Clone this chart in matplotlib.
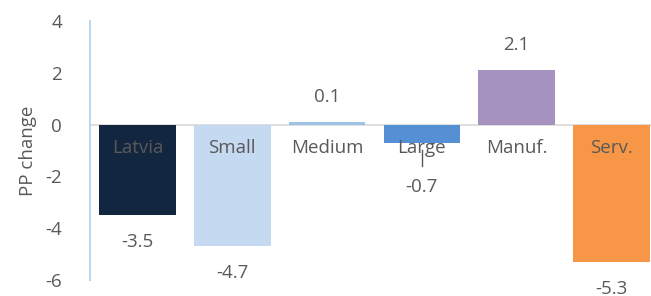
import matplotlib.pyplot as plt

categories = ["Latvia", "Small", "Medium", "Large", "Manuf.", "Serv."]
values = [-3.5, -4.7, 0.1, -0.7, 2.1, -5.3]
colors = ["#12263f", "#c5d9f1", "#9dc3e6", "#5590d5", "#a692be", "#f79646"]
yticks = [-6, -4, -2, 0, 2, 4]

plt.rcParams['font.family'] = ['Open Sans', 'DejaVu Sans']
grey = "#595959"
fs = 13.5

fig = plt.figure(figsize=(6.51, 2.96), dpi=100)
ax = fig.add_axes([90 / 651, 16 / 296, 569 / 651, 259 / 296])

x = range(len(categories))
ax.bar(x, values, width=0.81, color=colors, zorder=2)
ax.axhline(0, color="#d9d9d9", lw=1.2, zorder=1)

# category names sit just under the zero line
for i, name in enumerate(categories):
    ax.annotate(name, (i, 0), xytext=(0, -16.5), textcoords="offset points",
                ha="center", va="center", fontsize=fs, color=grey, zorder=3)

# value labels outside bar ends
for i, v in enumerate(values):
    off = 18 if v > 0 else -19.5
    if i == 3:
        off = -32
    ax.annotate(f"{v:.1f}", (i, v), xytext=(0, off), textcoords="offset points",
                ha="center", va="center", fontsize=fs, color=grey, zorder=3)

# leader line for the short "Large" bar
ax.plot([3, 3], [-0.97, -1.6], color=grey, lw=1, zorder=3)

ax.set_xlim(-0.5, len(categories) - 0.5)
ax.set_ylim(-6, 4)
ax.set_yticks(yticks)
ax.set_yticklabels([str(t) for t in yticks], fontsize=fs, color=grey)
ax.set_xticks([])
ax.tick_params(axis="y", length=0, pad=20)
ax.set_ylabel("PP change", fontsize=fs, color=grey, labelpad=6)

for s in ["top", "right", "bottom"]:
    ax.spines[s].set_visible(False)
ax.spines["left"].set_color("#bdd7ee")
ax.spines["left"].set_linewidth(1.5)

fig.savefig("out.png", dpi=100)
